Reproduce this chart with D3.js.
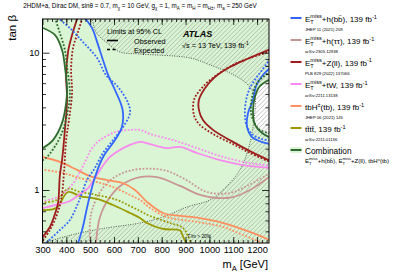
<!DOCTYPE html>
<html>
<head>
<meta charset="utf-8">
<script src="https://cdn.jsdelivr.net/npm/d3@7"></script>
<style>
  body { margin: 0; background: #fff; }
  text { font-family: "Liberation Sans", Arial, sans-serif; fill: #000; }
</style>
</head>
<body>
<svg id="chart" width="407" height="275"></svg>
<script>
"use strict";

// limit contours, points are [mA in GeV, tanβ]
var bbObs = [[476,18],[508,15.1],[533,11.4],[555,8.7],[575,6.9],[604,5.35],[636,3.83],[633,2.88],[604,2.31],[554,1.74],[520,1.24],[491,0.80],[466,0.51],[447,0.40]];
var bbObsRight = [[1255,7.8],[1221,6.76],[1196,5.72],[1183,4.52],[1162,3.64],[1158,2.88],[1179,2.43],[1233,2.20],[1255,2.16]];
var bbExp = [[363,18],[415,15.1],[470,11.96],[529,9.15],[566,6.88],[617,5.63],[659,4.30],[667,3.64],[638,2.88],[596,2.31],[554,1.86],[520,1.45],[487,1.18],[449,0.80],[415,0.605],[373,0.511],[308,0.40]];
var bbExpRight = [[1255,9.0],[1221,7.48],[1196,6.54],[1170,5.53],[1154,4.52],[1149,3.52],[1158,2.88],[1183,2.52],[1221,2.35],[1255,2.30]];

var tautauObs = [[524,0.40],[541,0.636],[583,0.889],[638,1.105],[709,1.24],[780,1.24],[877,1.07],[961,0.92],[1032,0.874],[1099,0.889],[1170,1.0],[1255,1.26]];
var tautauExp = [[499,0.40],[499,0.575],[508,0.715],[541,0.967],[596,1.22],[680,1.40],[805,1.40],[889,1.22],[990,0.967],[1086,0.951],[1158,1.07],[1255,1.33]];

var zllObs = [[447,18],[424,13.46],[407,10.12],[399,6.88],[403,4.52],[394,2.74],[382,1.65],[373,1.29],[365,0.80],[348,0.636],[331,0.538],[296,0.445]];
var zllExp = [[468,18],[449,14.15],[428,10.82],[420,7.48],[424,5.09],[411,3.23],[399,2.31],[390,1.33],[378,0.846],[357,0.636],[331,0.511],[300,0.425]];
var zllObsRight = [[1255,10.6],[1158,9.0],[1086,7.87],[1023,6.65],[982,5.53],[956,4.52],[956,3.83],[973,3.23],[1015,2.74],[1099,2.24],[1170,1.92],[1255,1.63]];
var zllExpRight = [[1255,10.2],[1170,9.15],[1099,8.14],[1003,6.33],[961,5.35],[935,4.52],[935,3.52],[956,3.03],[1015,2.56],[1099,2.16],[1170,1.86],[1255,1.60]];

var twObs = [[295,0.735],[352,0.777],[415,0.832],[457,0.935],[491,1.03],[520,1.22],[541,1.40],[583,1.74],[625,1.96],[667,2.13],[709,2.24],[751,2.16],[822,2.02],[877,2.06],[948,1.86],[1045,1.65],[1141,1.52],[1255,1.45]];
var twExp = [[295,0.83],[365,0.889],[424,1.09],[457,1.35],[482,1.65],[508,2.02],[541,2.31],[608,2.65],[667,2.74],[709,2.74],[751,2.56],[847,2.31],[948,2.02],[1057,1.74],[1170,1.57],[1255,1.51]];

var tbhObs = [[295,1.75],[373,1.60],[445,1.40],[499,1.26],[571,1.18],[638,1.12],[688,1.0],[738,0.82],[805,0.68],[877,0.647],[948,0.63],[1032,0.59],[1128,0.526],[1242,0.44],[1260,0.42]];
var tbhExp = [[295,1.41],[386,1.33],[457,1.22],[529,1.14],[596,1.05],[667,0.92],[709,0.846],[751,0.74],[822,0.636],[948,0.585],[1057,0.538],[1141,0.47],[1240,0.40]];

var ttttObs = [[295,0.715],[357,0.74],[407,0.967],[457,0.904],[529,0.86],[596,0.777],[667,0.68],[709,0.625],[738,0.575],[805,0.52],[877,0.506],[889,0.46],[906,0.40]];
var ttttExp = [[295,0.81],[361,0.846],[407,1.02],[457,0.967],[529,0.92],[612,0.846],[667,0.765],[709,0.703],[751,0.647],[835,0.575],[889,0.53],[910,0.462],[925,0.40]];

var combObs = [[295,15.3],[352,13.46],[382,10.46],[394,7.87],[403,5.35],[399,4.30],[382,3.08],[344,2.31],[295,1.99]];
var combExp = [[352,18],[373,13.9],[394,10.46],[403,7.87],[415,5.09],[407,3.83],[386,2.74],[361,2.20],[319,1.74],[295,1.62]];
var combObsRight = [[1255,6.4],[1212,5.72],[1191,4.76],[1183,3.83],[1187,3.13],[1200,2.83],[1221,2.60],[1255,2.41]];
var combExpRight = [[1255,7.3],[1200,6.02],[1179,4.76],[1175,3.64],[1191,3.03],[1212,2.74],[1255,2.58]];

// Γ/m > 20% boundary
var widthLimit = [[508,18],[524,14.15],[571,11.77],[625,10.12],[709,9.78],[919,9.15],[1003,8.14],[1086,7.11],[1158,5.92],[1191,4.76],[1191,3.83],[1183,2.88],[1162,1.96],[1128,1.40],[1057,1.0],[1003,0.846],[906,0.752],[805,0.636],[709,0.575],[541,0.52],[403,0.462],[296,0.405]];

var xMajor = [300,400,500,600,700,800,900,1000,1100,1200];
var xMinor = d3.range(320, 1250, 20);
var yMajor = [1, 10];
var yMinor = [0.5,0.6,0.7,0.8,0.9,2,3,4,5,6,7,8,9];

var svg = d3.select("#chart");
var pLeft = 42.5, pRight = 269, pTop = 19, pBottom = 243;
var x = d3.scaleLinear().domain([300, 1250]).range([pLeft, pRight]);
var y = d3.scaleLog().domain([0.411, 17.6]).range([pBottom, pTop]);

var defs = svg.append("defs");
defs.append("clipPath").attr("id", "plotClip")
  .append("rect").attr("x", pLeft).attr("y", pTop)
  .attr("width", pRight - pLeft).attr("height", pBottom - pTop);
var hatch = defs.append("pattern").attr("id", "hatch")
  .attr("patternUnits", "userSpaceOnUse").attr("width", 4.5).attr("height", 4.5);
hatch.append("path").attr("d", "M-1,1 l2,-2 M0,4.5 l4.5,-4.5 M3.5,5.5 l2,-2")
  .attr("stroke", "#8c8c8c").attr("stroke-width", 0.55);

var line = d3.line()
  .x(function(d) { return x(d[0]); })
  .y(function(d) { return y(d[1]); })
  .curve(d3.curveCatmullRom.alpha(0.5));

var plot = svg.append("g").attr("clip-path", "url(#plotClip)");

// excluded region of the combination, white where not excluded
plot.append("rect").attr("x", pLeft).attr("y", pTop)
  .attr("width", pRight - pLeft).attr("height", pBottom - pTop)
  .attr("fill", "#d9f5d3");
plot.append("path")
  .attr("d", line(combObs) + "L" + x(280) + "," + y(1.99) + "L" + x(280) + "," + y(15.3) + "Z")
  .attr("fill", "#fff");
plot.append("path")
  .attr("d", line(combObsRight) + "L" + x(1270) + "," + y(2.41) + "L" + x(1270) + "," + y(6.4) + "Z")
  .attr("fill", "#fff");

// Γ/m > 20% region
plot.append("path")
  .attr("d", line(widthLimit) + "L" + x(1270) + "," + y(0.39) + "L" + x(1270) + "," + y(19) + "L" + x(508) + "," + y(19) + "Z")
  .attr("fill", "url(#hatch)");
plot.append("path").attr("d", line(widthLimit))
  .attr("fill", "none").attr("stroke", "#333").attr("stroke-width", 0.8)
  .attr("stroke-dasharray", "1,1.4");

var curves = [
  [tautauExp, "#c99595", true], [tautauObs, "#c99595", false],
  [ttttExp, "#9a9a00", true], [ttttObs, "#9a9a00", false],
  [tbhExp, "#ff8f5e", true], [tbhObs, "#ff8f5e", false],
  [twExp, "#f98af0", true], [twObs, "#f98af0", false],
  [zllExp, "#9e1d1d", true], [zllObs, "#9e1d1d", false],
  [zllExpRight, "#9e1d1d", true], [zllObsRight, "#9e1d1d", false],
  [bbExp, "#3366ff", true], [bbObs, "#3366ff", false],
  [bbExpRight, "#3366ff", true], [bbObsRight, "#3366ff", false],
  [combExp, "#2f6b2f", true], [combObs, "#2f6b2f", false],
  [combExpRight, "#2f6b2f", true], [combObsRight, "#2f6b2f", false]
];
curves.forEach(function(c) {
  var p = plot.append("path").attr("d", line(c[0]))
    .attr("fill", "none").attr("stroke", c[1]).attr("stroke-width", 1.8);
  if (c[2]) p.attr("stroke-dasharray", "1.8,1.7");
});

// axes, ticks inside on all four sides
function styleAxis(g) {
  g.select(".domain").remove();
  g.selectAll("line").attr("stroke", "#000").attr("stroke-width", 0.8);
  g.selectAll("text").style("font-size", "9.3px").style("font-family", '"Liberation Sans", Arial, sans-serif');
}
svg.append("g").attr("transform", "translate(0," + pBottom + ")")
  .call(d3.axisBottom(x).tickValues(xMajor).tickSize(-6).tickPadding(3).tickFormat(d3.format("d"))).call(styleAxis);
svg.append("g").attr("transform", "translate(0," + pBottom + ")")
  .call(d3.axisBottom(x).tickValues(xMinor).tickSize(-3).tickFormat("")).call(styleAxis);
svg.append("g").attr("transform", "translate(0," + pTop + ")")
  .call(d3.axisTop(x).tickValues(xMajor).tickSize(-6).tickFormat("")).call(styleAxis);
svg.append("g").attr("transform", "translate(0," + pTop + ")")
  .call(d3.axisTop(x).tickValues(xMinor).tickSize(-3).tickFormat("")).call(styleAxis);
svg.append("g").attr("transform", "translate(" + pLeft + ",0)")
  .call(d3.axisLeft(y).tickValues(yMajor).tickSize(-7).tickPadding(3).tickFormat(d3.format("d"))).call(styleAxis);
svg.append("g").attr("transform", "translate(" + pLeft + ",0)")
  .call(d3.axisLeft(y).tickValues(yMinor).tickSize(-3.5).tickFormat("")).call(styleAxis);
svg.append("g").attr("transform", "translate(" + pRight + ",0)")
  .call(d3.axisRight(y).tickValues(yMajor).tickSize(-7).tickFormat("")).call(styleAxis);
svg.append("g").attr("transform", "translate(" + pRight + ",0)")
  .call(d3.axisRight(y).tickValues(yMinor).tickSize(-3.5).tickFormat("")).call(styleAxis);
svg.append("rect").attr("x", pLeft).attr("y", pTop)
  .attr("width", pRight - pLeft).attr("height", pBottom - pTop)
  .attr("fill", "none").attr("stroke", "#000").attr("stroke-width", 1);

// text with sub/superscripts; "over" stacks on the previous subscript
function rich(g, tx, ty, size, segs, anchor) {
  var t = g.append("text").attr("x", tx).attr("y", ty).style("font-size", size + "px");
  if (anchor) t.attr("text-anchor", anchor);
  var cur = 0, subW = 0;
  segs.forEach(function(s) {
    var str = typeof s === "string" ? s : s[0];
    var kind = typeof s === "string" ? "n" : s[1];
    var off = 0, fs = size, dx = 0;
    if (kind === "sub") { off = 0.3 * size; fs = 0.7 * size; }
    if (kind === "sup") { off = -0.4 * size; fs = 0.7 * size; }
    if (kind === "over") { off = -0.42 * size; fs = 0.7 * size; dx = -subW; }
    var ts = t.append("tspan").attr("dy", off - cur).style("font-size", fs + "px").text(str);
    if (dx) ts.attr("dx", dx);
    cur = off;
    if (kind === "sub") subW = ts.node().getComputedTextLength();
  });
  return t;
}

rich(svg, 140, 8, 6.3, ["2HDM+a, Dirac DM, sin\u03b8 = 0.7, m", ["\u03c7", "sub"], " = 10 GeV, g", ["\u03c7", "sub"],
  " = 1, m", ["A", "sub"], " = m", ["H", "sub"], " = m", ["H\u00b1", "sub"], ", m", ["a", "sub"], " = 250 GeV"], "middle");

svg.append("text").attr("transform", "translate(16,15) rotate(-90)")
  .attr("text-anchor", "end").style("font-size", "11.5px").text("tan \u03b2");
rich(svg, 268, 268, 11, ["m", ["A", "sub"], " [GeV]"], "end");

svg.append("text").attr("x", 107).attr("y", 34).style("font-size", "7.3px").text("Limits at 95% CL");
svg.append("line").attr("x1", 107).attr("x2", 118).attr("y1", 40.5).attr("y2", 40.5)
  .attr("stroke", "#000").attr("stroke-width", 1.6);
svg.append("line").attr("x1", 107).attr("x2", 118).attr("y1", 49.5).attr("y2", 49.5)
  .attr("stroke", "#000").attr("stroke-width", 1.6).attr("stroke-dasharray", "3,2.5");
svg.append("text").attr("x", 134).attr("y", 43.5).style("font-size", "7.3px").text("Observed");
svg.append("text").attr("x", 134).attr("y", 52.5).style("font-size", "7.3px").text("Expected");

svg.append("text").attr("x", 183).attr("y", 37).style("font-size", "9px")
  .style("font-weight", "bold").style("font-style", "italic").text("ATLAS");
rich(svg, 182, 48, 7.3, ["\u221as = 13 TeV, 139 fb", ["-1", "sup"]]);

svg.append("text").attr("x", 188).attr("y", 237.5).style("font-size", "4.8px").text("\u0393/m > 20%");

// legend
var met = ["E", ["T", "sub"], ["miss", "over"]];
var legendEntries = [
  { color: "#3366ff", segs: met.concat(["+h(bb\u0304), 139 fb", ["-1", "sup"]]), ref: "JHEP 11 (2021) 209" },
  { color: "#c99595", segs: met.concat(["+h(\u03c4\u03c4), 139 fb", ["-1", "sup"]]), ref: "arXiv:2305.12938" },
  { color: "#9e1d1d", segs: met.concat(["+Z(ll), 139 fb", ["-1", "sup"]]), ref: "PLB 829 (2022) 137066" },
  { color: "#f98af0", segs: met.concat(["+tW, 139 fb", ["-1", "sup"]]), ref: "arXiv:2211.13138" },
  { color: "#ff8f5e", segs: ["tbH", ["\u00b1", "sup"], "(tb), 139 fb", ["-1", "sup"]], ref: "JHEP 06 (2021) 145" },
  { color: "#9a9a00", segs: ["tt\u0304tt\u0304, 139 fb", ["-1", "sup"]], ref: "arXiv:2211.01136" },
  { color: "#2f6b2f", segs: ["Combination"], box: true }
];
var legend = svg.append("g");
legendEntries.forEach(function(e, i) {
  var ly = 18 + i * 22;
  if (e.box) {
    legend.append("rect").attr("x", 290.5).attr("y", ly - 3).attr("width", 11).attr("height", 6)
      .attr("fill", "#d9f5d3");
  }
  legend.append("line").attr("x1", 290.5).attr("x2", 301.5).attr("y1", ly).attr("y2", ly)
    .attr("stroke", e.color).attr("stroke-width", 2);
  rich(legend, 305, ly + 3.7, e.box ? 8.3 : 8, e.segs);
  if (e.ref) {
    legend.append("text").attr("x", 305).attr("y", ly + 13.3).style("font-size", "4.2px").text(e.ref);
  }
});
rich(legend, 305, 18 + 6 * 22 + 13, 6, met.concat(["+h(bb\u0304), "]).concat(met).concat(["+Z(ll), tbH", ["\u00b1", "sup"], "(tb)"]));
</script>
</body>
</html>
